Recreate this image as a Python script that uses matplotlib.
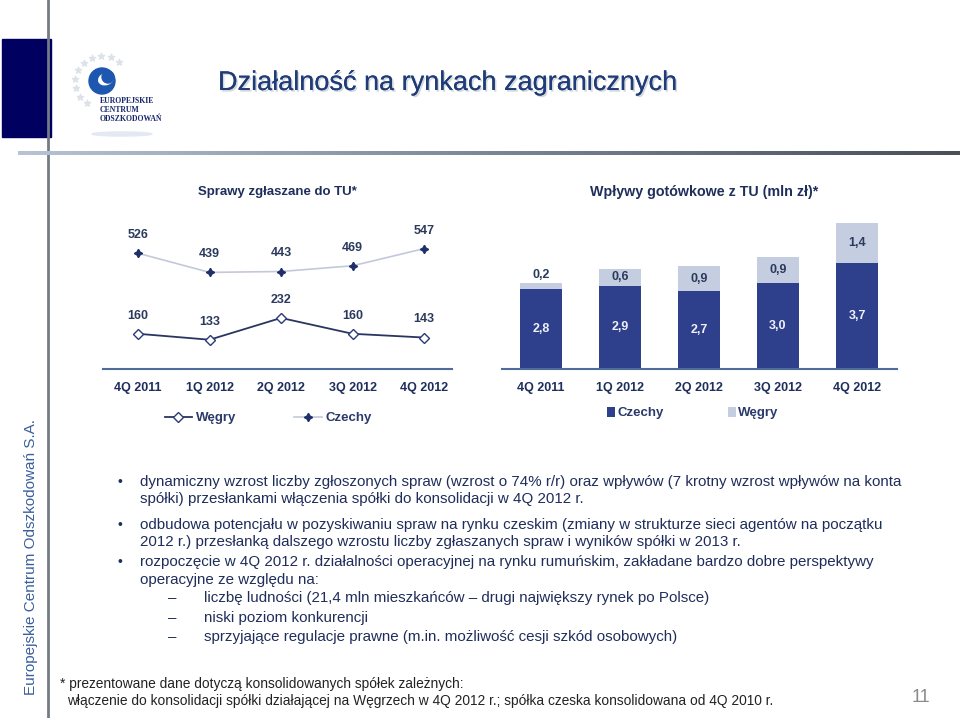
import matplotlib
matplotlib.use('Agg')
import matplotlib.pyplot as plt
import matplotlib.patheffects as pe
from matplotlib.patches import Rectangle, Circle, Ellipse
import numpy as np

plt.rcParams['font.family'] = ['Liberation Sans', 'DejaVu Sans']

W, H = 960, 718

# dane
quarters = ['4Q 2011', '1Q 2012', '2Q 2012', '3Q 2012', '4Q 2012']
sprawy_wegry = [160, 133, 232, 160, 143]
sprawy_czechy = [526, 439, 443, 469, 547]
wplywy_czechy = [2.8, 2.9, 2.7, 3.0, 3.7]
wplywy_wegry = [0.2, 0.6, 0.9, 0.9, 1.4]

bullets = [
    ["dynamiczny wzrost liczby zgłoszonych spraw (wzrost o 74% r/r) oraz wpływów (7 krotny wzrost wpływów na konta",
     "spółki) przesłankami włączenia spółki do konsolidacji w 4Q 2012 r."],
    ["odbudowa potencjału w pozyskiwaniu spraw na rynku czeskim (zmiany w strukturze sieci agentów na początku",
     "2012 r.) przesłanką dalszego wzrostu liczby zgłaszanych spraw i wyników spółki w 2013 r."],
    ["rozpoczęcie w 4Q 2012 r. działalności operacyjnej na rynku rumuńskim, zakładane bardzo dobre perspektywy",
     "operacyjne ze względu na:"],
]
bullet_y = [[482, 499], [525, 542], [562, 580]]
sub_items = ["liczbę ludności (21,4 mln mieszkańców – drugi największy rynek po Polsce)",
             "niski poziom konkurencji",
             "sprzyjające regulacje prawne (m.in. możliwość cesji szkód osobowych)"]
sub_y = [598, 618, 637]

NAVY = '#1f2f5c'
DARK_BAR = '#2e3f8c'
LIGHT_BAR = '#c5cde0'


def box(x0, y0, x1, y1):
    return [x0 / W, 1 - y1 / H, (x1 - x0) / W, (y1 - y0) / H]


def fmt(v):
    return f"{v:.1f}".replace('.', ',')


fig = plt.figure(figsize=(9.6, 7.18), dpi=100)
bg = fig.add_axes([0, 0, 1, 1])
bg.set_xlim(0, W)
bg.set_ylim(H, 0)
bg.axis('off')

# ramka slajdu
bg.add_patch(Rectangle((2, 39), 49, 98, color='#000060', zorder=2))
bg.plot([48, 48], [0, H], color='#737b86', lw=2, zorder=3)

# gradientowa linia pod tytułem
grad = fig.add_axes(box(18, 151, 960, 155))
grad.imshow(np.linspace(0, 1, 256)[None, :], aspect='auto',
            cmap=matplotlib.colors.LinearSegmentedColormap.from_list('g', ['#b8c4d4', '#7a8696', '#4a4f58']))
grad.axis('off')

# logo
ang = np.radians(np.linspace(50, 235, 10))
bg.scatter(102 + 27 * np.cos(ang), 82 - 26 * np.sin(ang), marker='*', s=22,
           color='#dde1e9', zorder=2)
bg.add_patch(Circle((102, 81), 13, color='#1d57b0', zorder=3))
bg.add_patch(Ellipse((106, 79), 15, 11, angle=-20, color='white', zorder=4))
bg.add_patch(Circle((108, 77), 6, color='#1d57b0', zorder=5))
bg.add_patch(Ellipse((122, 134), 60, 4, color='#e3e8f2', zorder=1))
for i, s in enumerate(['EUROPEJSKIE', 'CENTRUM', 'ODSZKODOWAŃ']):
    bg.text(100, 101 + 9 * i, s, fontsize=5.6, fontweight='bold', color='#1a2a6c',
            family=['Liberation Serif', 'DejaVu Serif'], va='center', ha='left')

# tytuł
bg.text(218, 83, 'Działalność na rynkach zagranicznych', fontsize=19.5, color='#1f3c78',
        va='center', ha='left',
        path_effects=[pe.withSimplePatchShadow(offset=(1.2, -1.2), shadow_rgbFace='#aab2bd', alpha=0.5),
                      pe.Normal()])

# podpisy wykresów
bg.text(198, 192, 'Sprawy zgłaszane do TU*', fontsize=9.5, fontweight='bold', color=NAVY,
        va='center', ha='left')
bg.text(590, 192, 'Wpływy gotówkowe z TU (mln zł)*', fontsize=10.3, fontweight='bold', color=NAVY,
        va='center', ha='left')

# wykres liniowy
x = np.arange(len(quarters))
ax1 = fig.add_axes(box(103, 220, 452, 369))
ax1.plot(x, sprawy_wegry, color='#2a3560', lw=1.3, marker='D', ms=5, mfc='white',
         mec='#2a3a7a', mew=1, label='Węgry')
ax1.plot(x, sprawy_czechy, color='#c3c9d9', lw=1.2, marker=(4, 1, 0), ms=6,
         mfc='#1f2f6a', mec='#1f2f6a', label='Czechy')
ax1.set_xlim(-0.49, 4.39)
ax1.set_ylim(0, 677)
for v_list in (sprawy_wegry, sprawy_czechy):
    for i, v in enumerate(v_list):
        ax1.annotate(str(v), (i, v), xytext=(0, 13), textcoords='offset points',
                     ha='center', va='center', fontsize=9, fontweight='bold', color='#2b3a5c')

# wykres słupkowy
ax2 = fig.add_axes(box(501.5, 220, 896.5, 369))
ax2.bar(x, wplywy_czechy, width=0.53, color=DARK_BAR, label='Czechy')
ax2.bar(x, wplywy_wegry, bottom=wplywy_czechy, width=0.53, color=LIGHT_BAR, label='Węgry')
ax2.set_xlim(-0.5, 4.5)
ax2.set_ylim(0, 5.19)
for i in x:
    c, w = wplywy_czechy[i], wplywy_wegry[i]
    ax2.text(i, c / 2, fmt(c), ha='center', va='center', fontsize=9, fontweight='bold',
             color='#eef1f8')
    if w >= 0.5:
        ax2.text(i, c + w / 2, fmt(w), ha='center', va='center', fontsize=9,
                 fontweight='bold', color='#2b3a5c')
    else:
        ax2.annotate(fmt(w), (i, c + w), xytext=(0, 1), textcoords='offset points',
                     ha='center', va='bottom', fontsize=9, fontweight='bold', color='#2b3a5c')

for ax in (ax1, ax2):
    for sp in ('top', 'right', 'left'):
        ax.spines[sp].set_visible(False)
    ax.spines['bottom'].set_color('#4f6d9a')
    ax.spines['bottom'].set_linewidth(1.5)
    ax.set_yticks([])
    ax.set_xticks(x, quarters)
    ax.tick_params(axis='x', length=0, pad=9.5, labelsize=9, labelcolor=NAVY)
    for lab in ax.get_xticklabels():
        lab.set_fontweight('bold')
    ax.patch.set_alpha(0)

ax1.legend(loc='center', bbox_to_anchor=(268 / W, 1 - 418 / H), bbox_transform=fig.transFigure,
           ncol=2, frameon=False, prop={'size': 9.5, 'weight': 'bold'}, handlelength=2.1,
           columnspacing=4.4, handletextpad=0.25, labelcolor='#2a3a6a')
ax2.legend(loc='center', bbox_to_anchor=(693 / W, 1 - 413 / H), bbox_transform=fig.transFigure,
           ncol=2, frameon=False, prop={'size': 9.5, 'weight': 'bold'}, handlelength=0.6,
           handleheight=0.8, columnspacing=4.8, handletextpad=0.2, labelcolor='#2a3a6a')

# tekst
BODY = '#1f2d5a'
for lines, ys in zip(bullets, bullet_y):
    bg.text(118, ys[0], '•', fontsize=10, color=BODY, va='center', ha='left')
    for s, y in zip(lines, ys):
        bg.text(140, y, s, fontsize=10.9, color=BODY, va='center', ha='left')
for s, y in zip(sub_items, sub_y):
    bg.text(168, y, '–', fontsize=10.9, color=BODY, va='center', ha='left')
    bg.text(204, y, s, fontsize=10.9, color=BODY, va='center', ha='left')

bg.text(60, 684, '* prezentowane dane dotyczą konsolidowanych spółek zależnych:',
        fontsize=9.9, color='#222222', va='center', ha='left')
bg.text(67, 701, 'włączenie do konsolidacji spółki działającej na Węgrzech w 4Q 2012 r.; '
        'spółka czeska konsolidowana od 4Q 2010 r.', fontsize=9.9, color='#222222',
        va='center', ha='left')
bg.text(921, 697, '11', fontsize=13, color='#8a8a8a', va='center', ha='center')

bg.text(31, 557, 'Europejskie Centrum Odszkodowań S.A.', rotation=90, fontsize=11,
        color='#3a5f9a', va='center', ha='center')

fig.savefig('out.png', dpi=100)
